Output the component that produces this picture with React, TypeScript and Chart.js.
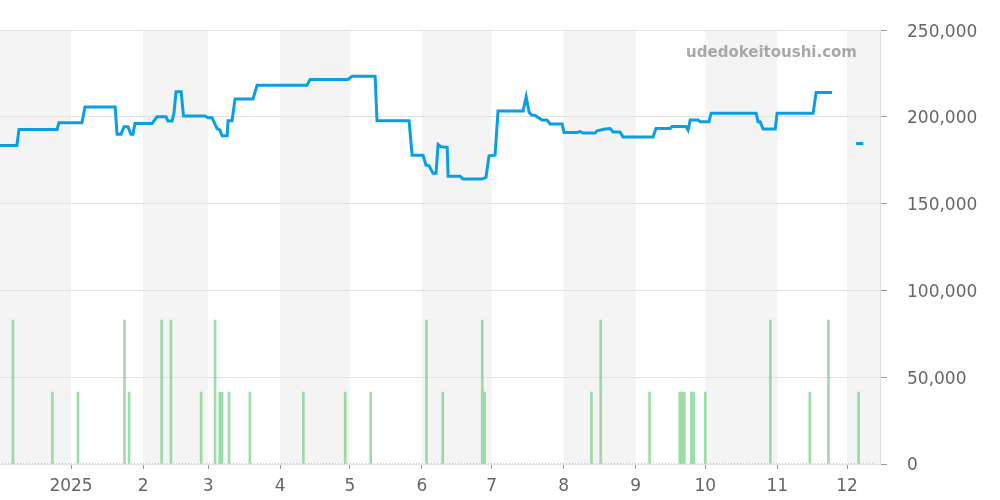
import React, { useEffect, useRef } from "react";
import { Chart, registerables } from "chart.js";

Chart.register(...registerables);

// x values are day indices, day 0 = 2024-12-01
const monthStartDays = [31, 62, 90, 121, 151, 182, 212, 243, 274, 304, 335, 365];
const monthLabels = ["2025", "2", "3", "4", "5", "6", "7", "8", "9", "10", "11", "12"];
const shadedMonthStarts = [0, 62, 121, 182, 243, 304, 365];
const shadedMonthEnds = [31, 90, 151, 212, 274, 335, 396];

const yTickValues = [0, 50000, 100000, 150000, 200000, 250000];

const priceDays = [
  0, 7.7, 8.6, 25, 25.8, 35.7, 37, 50, 50.8, 52.5, 53.8, 55.5, 56.8, 57.7, 58.5, 65.9,
  68, 71.9, 72.7, 74.5, 75.3, 76.2, 78.4, 79.4, 88.7, 90, 91.7, 93.8, 95.1, 96, 98.2,
  98.6, 100.3, 101.6, 109.3, 111.1, 132.6, 133.9, 150.2, 152, 161.9, 162.7, 176.5,
  177.8, 182.5, 183.8, 185.1, 186.8, 188.1, 189, 190.3, 192.9, 193.3, 198.5, 199.7,
  207.9, 209.6, 210.9, 213.5, 214.8, 225.6, 226.9, 228.2, 229.4, 230.7, 231.6, 233.7,
  235.9, 237.2, 242.4, 243.2, 248.8, 250.1, 251.4, 256.6, 257.4, 260.9, 263, 264.3,
  267.3, 268.6, 281.5, 282.8, 288.9, 289.7, 295.7, 296.6, 297.5, 300.9, 301.8, 305.6,
  306.5, 325.9, 326.7, 327.6, 328.9, 334.1, 334.9, 350.4, 351.7, 358.6, 364, 368.9, 372,
];
const priceValues: (number | null)[] = [
  183600, 183600, 192800, 192800, 196600, 196600, 205800, 205800, 190100, 190100, 194300,
  194300, 190100, 190100, 196300, 196300, 200100, 200100, 197600, 197600, 202200, 214500,
  214500, 200600, 200600, 199500, 199500, 193400, 192400, 189100, 189100, 197800, 197800,
  210300, 210300, 218300, 218300, 221600, 221600, 223500, 223500, 197800, 197800, 178000,
  178000, 172200, 171800, 167500, 167500, 184200, 182800, 182500, 165900, 165900, 164200,
  164200, 165200, 177600, 178000, 203500, 203500, 211600, 202600, 201000, 201000, 200100,
  198200, 198200, 196000, 196000, 191100, 191100, 191600, 190700, 190700, 192000, 193100,
  193300, 191400, 191400, 188400, 188400, 193400, 193400, 194500, 194500, 192400, 198200,
  198200, 197200, 197200, 202200, 202200, 197200, 197200, 193000, 193000, 202200, 202200,
  214100, 214100, null, 184700, 184700,
];

const volumeDays = [
  6, 23, 34, 54, 56, 70, 74, 87, 93, 95, 96, 99, 108, 131, 149, 160, 184, 191, 208, 209,
  255, 259, 280, 293, 294, 295, 298, 299, 304, 332, 349, 357, 370,
];
const volumeValues = [
  83000, 41500, 41500, 83000, 41500, 83000, 83000, 41500, 83000, 41500, 41500, 41500,
  41500, 41500, 41500, 41500, 83000, 41500, 83000, 41500, 41500, 83000, 41500, 41500,
  41500, 41500, 41500, 41500, 41500, 83000, 41500, 83000, 41500,
];
const volumeBaseDays = [0, 377];
const volumeBaseValues = [0, 0];

const X_MIN = 0.43;
const X_MAX = 379.2;
const WATERMARK = "udedokeitoushi.com";
const FONT = "'DejaVu Sans', sans-serif";

const bandsPlugin = {
  id: "bands",
  beforeDraw(chart: any) {
    const { ctx, chartArea, scales } = chart;
    const xs = scales.x;
    ctx.save();
    ctx.fillStyle = "#f4f4f4";
    for (let i = 0; i < shadedMonthStarts.length; i++) {
      const a = Math.max(xs.getPixelForValue(shadedMonthStarts[i]), chartArea.left);
      const b = Math.min(xs.getPixelForValue(shadedMonthEnds[i]), chartArea.right);
      if (b > a) ctx.fillRect(a, chartArea.top, b - a, chartArea.bottom - chartArea.top);
    }
    ctx.restore();
  },
  beforeDatasetsDraw(chart: any) {
    const { ctx, chartArea } = chart;
    ctx.save();
    ctx.font = `bold 15px ${FONT}`;
    ctx.fillStyle = "#a8a8a8";
    ctx.textAlign = "right";
    ctx.textBaseline = "middle";
    ctx.fillText(WATERMARK, chartArea.right - 23, chartArea.top + 23);
    ctx.restore();
  },
};

export default function App() {
  const ref = useRef<HTMLCanvasElement | null>(null);
  useEffect(() => {
    if (!ref.current) return;
    const chart = new Chart(ref.current, {
      type: "bar",
      data: {
        datasets: [
          {
            type: "line",
            label: "price",
            data: priceDays.map((d, i) => ({ x: d, y: priceValues[i] })) as any,
            borderColor: "#0a9fe4",
            borderWidth: 3,
            pointRadius: 0,
            tension: 0,
            spanGaps: false,
            order: 0,
          } as any,
          {
            type: "bar",
            label: "volume",
            data: volumeDays.map((d, i) => ({ x: d, y: volumeValues[i] })) as any,
            backgroundColor: "rgba(120, 205, 135, 0.7)",
            barThickness: 2,
            order: 1,
          } as any,
          {
            type: "line",
            label: "base",
            data: volumeBaseDays.map((d, i) => ({ x: d, y: volumeBaseValues[i] })) as any,
            borderColor: "rgba(120, 205, 135, 0.8)",
            borderWidth: 1.5,
            borderDash: [1, 2],
            pointRadius: 0,
            order: 2,
          } as any,
        ],
      },
      options: {
        animation: false,
        responsive: false,
        maintainAspectRatio: false,
        layout: { padding: { top: 30, left: 0, right: 0, bottom: 0 } },
        plugins: { legend: { display: false }, tooltip: { enabled: false } },
        scales: {
          x: {
            type: "linear",
            min: X_MIN,
            max: X_MAX,
            offset: false,
            grid: {
              offset: false,
              drawOnChartArea: false,
              drawTicks: true,
              tickLength: 5,
              tickColor: "#999",
            },
            border: { display: false },
            ticks: {
              color: "#666",
              font: { family: FONT, size: 17 },
              padding: 7,
              maxRotation: 0,
              autoSkip: false,
              callback: (v: any) => {
                const idx = monthStartDays.indexOf(Number(v));
                return idx >= 0 ? monthLabels[idx] : "";
              },
            },
            afterBuildTicks: (scale: any) => {
              scale.ticks = monthStartDays.map((v) => ({ value: v }));
            },
            afterFit: (scale: any) => {
              scale.height = 36;
              scale.paddingLeft = 0;
              scale.paddingRight = 0;
            },
          },
          y: {
            position: "right",
            min: 0,
            max: 250000,
            grid: { color: "#e2e2e2", tickLength: 7, tickColor: "#999" },
            border: { display: true, color: "#ddd" },
            ticks: {
              color: "#666",
              font: { family: FONT, size: 17 },
              padding: 20,
              labelOffset: 2,
              callback: (v: any) => Number(v).toLocaleString("en-US"),
            },
            afterBuildTicks: (scale: any) => {
              scale.ticks = yTickValues.map((v) => ({ value: v }));
            },
            afterFit: (scale: any) => {
              scale.width = 120;
            },
          },
        },
      },
      plugins: [bandsPlugin],
    } as any);
    return () => chart.destroy();
  }, []);
  return (
    <div style={{ position: "absolute", left: 0, top: 0, width: 1000, height: 500, background: "#fff" }}>
      <canvas ref={ref} width={1000} height={500} style={{ width: 1000, height: 500 }} />
    </div>
  );
}
